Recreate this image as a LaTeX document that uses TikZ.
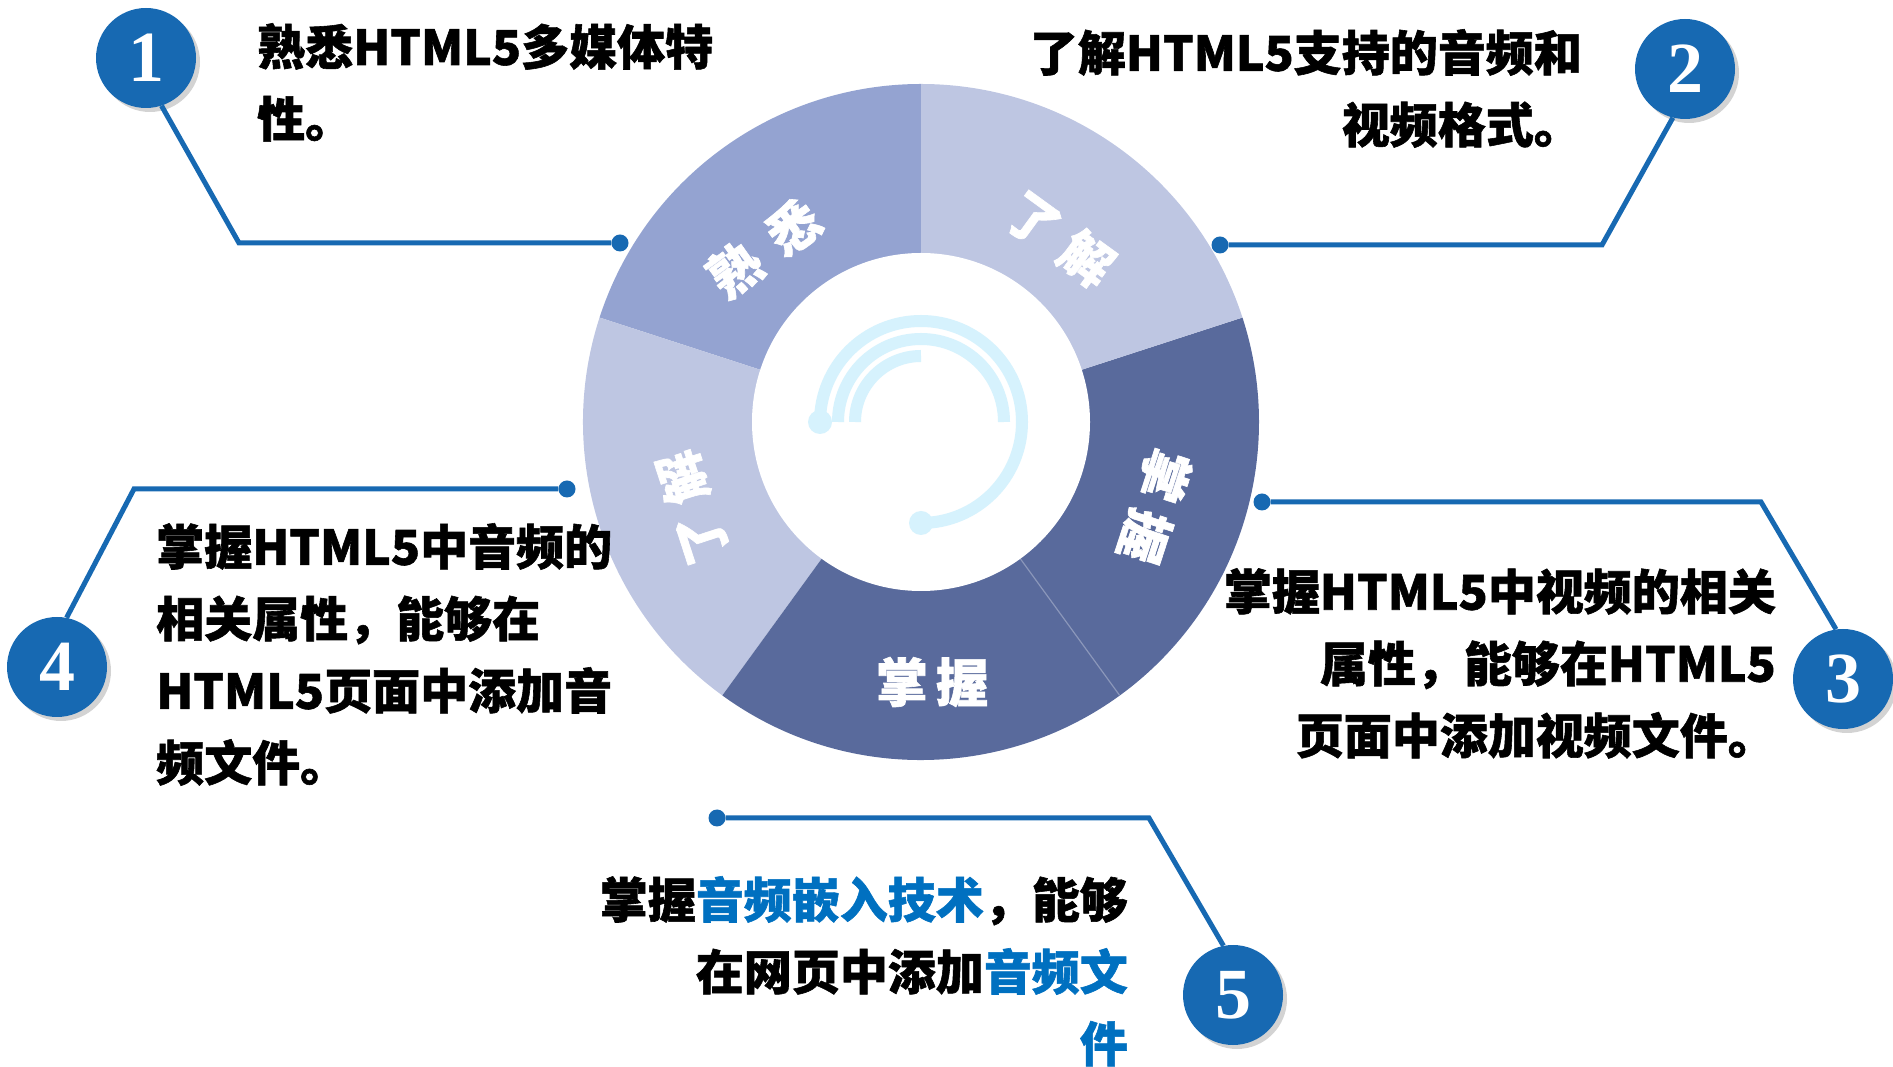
\documentclass[tikz,border=0pt]{standalone}
\usepackage{fontspec}
\setmainfont{Noto Sans CJK SC}[BoldFeatures={FakeBold=1.2}]
\newfontfamily\numfont{Liberation Serif}
\usetikzlibrary{calc,shadows}
\definecolor{badgeblue}{RGB}{23,105,178}
\definecolor{ringlight}{RGB}{190,198,226}
\definecolor{ringmid}{RGB}{148,163,209}
\definecolor{ringdark}{RGB}{89,106,156}
\definecolor{arccyan}{RGB}{214,242,253}
\definecolor{hlblue}{RGB}{0,112,192}

\begin{document}
\begin{tikzpicture}[x=1pt,y=1pt,
  badge/.style={circle,fill=badgeblue,minimum size=100pt,inner sep=0pt,text=white,
    font=\numfont\bfseries\fontsize{72}{72}\selectfont,
    drop shadow={shadow xshift=4pt,shadow yshift=-4pt,opacity=.35}},
  dot/.style={circle,fill=badgeblue,minimum size=17pt,inner sep=0pt},
  lead/.style={draw=badgeblue,line width=5pt},
  caption/.style={inner sep=0pt,font=\bfseries\fontsize{48}{72}\selectfont},
  seglabel/.style={text=white,inner sep=0pt,font=\bfseries\fontsize{52}{52}\selectfont},
  deco/.style={draw=arccyan,line width=12pt}]
  \useasboundingbox (0,0) rectangle (1893,1066);
  \coordinate (o) at (921,644);
  \fill[ringmid] (o) -- ++(90:338) arc[start angle=90,end angle=162,radius=338] -- cycle;
  \fill[ringlight] (o) -- ++(162:338) arc[start angle=162,end angle=234,radius=338] -- cycle;
  \fill[ringdark] (o) -- ++(234:338) arc[start angle=234,end angle=378,radius=338] -- cycle;
  \fill[ringlight] (o) -- ++(18:338) arc[start angle=18,end angle=90,radius=338] -- cycle;
  \draw[white!30!ringdark,line width=1.2pt] ($(o)+(-54:169)$) -- ($(o)+(-54:338)$);
  \fill[white] (o) circle[radius=169];
  \draw[deco] ($(o)+(180:101)$) arc[start angle=180,end angle=-90,radius=101];
  \fill[arccyan] ($(o)+(180:101)$) circle[radius=12];
  \fill[arccyan] ($(o)+(-90:101)$) circle[radius=12];
  \draw[deco] ($(o)+(180:83)$) arc[start angle=180,end angle=0,radius=83];
  \draw[deco] ($(o)+(180:66)$) arc[start angle=180,end angle=90,radius=66];
  \node[seglabel,rotate=36] (s1) at (764,818) {熟\hspace{20pt}悉};
  \node[seglabel,rotate=-36] (s2) at (1060,827) {了\hspace{14pt}解};
  \node[seglabel,rotate=-108] (s3) at (1155,560) {掌\hspace{12pt}握};
  \node[seglabel] (s4) at (932,384) {掌\hspace{8pt}握};
  \node[seglabel,rotate=108] (s5) at (692,558) {了\hspace{12pt}解};
  \node[dot] (d1) at (620,823) {};
  \node[dot] (d2) at (1220,821) {};
  \node[dot] (d3) at (1262,564) {};
  \node[dot] (d4) at (567,577) {};
  \node[dot] (d5) at (717,248) {};
  \coordinate (k1) at (239,823);
  \coordinate (k2) at (1602,821);
  \coordinate (k3) at (1761,564);
  \coordinate (k4) at (134,577);
  \coordinate (k5) at (1149,248);
  \node[badge] (b1) at (146,1008) {1};
  \node[badge] (b2) at (1685,997) {2};
  \node[badge] (b3) at (1843,387) {3};
  \node[badge] (b4) at (57,399) {4};
  \node[badge] (b5) at (1233,71) {5};
  \draw[lead] (b1.-72) -- (k1) -- (d1);
  \draw[lead] (b2.-104) -- (k2) -- (d2);
  \draw[lead] (b3.98) -- (k3) -- (d3);
  \draw[lead] (b4.79) -- (k4) -- (d4);
  \draw[lead] (b5.101) -- (k5) -- (d5);
  \node[caption,anchor=north west,align=left] (t1) at (257,1043) {熟悉HTML5多媒体特\\性。};
  \node[caption,anchor=north east,align=right] (t2) at (1582,1037) {了解HTML5支持的音频和\\视频格式。};
  \node[caption,anchor=north east,align=right] (t3) at (1776,498) {掌握HTML5中视频的相关\\属性，能够在HTML5\\页面中添加视频文件。};
  \node[caption,anchor=north west,align=left] (t4) at (156,543) {掌握HTML5中音频的\\相关属性，能够在\\HTML5页面中添加音\\频文件。};
  \node[caption,anchor=north east,align=right] (t5) at (1128,190) {掌握{\color{hlblue}音频嵌入技术}，能够\\在网页中添加{\color{hlblue}音频文}\\{\color{hlblue}件}};
\end{tikzpicture}
\end{document}
